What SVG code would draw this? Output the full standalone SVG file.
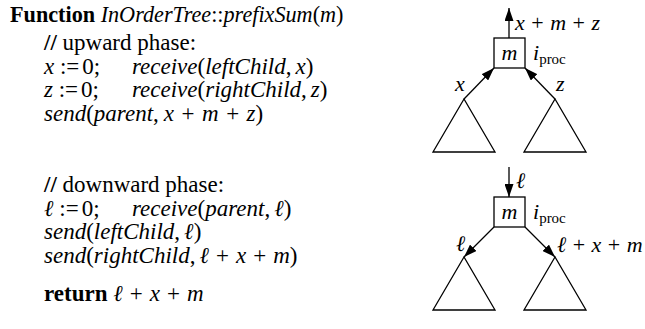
<svg xmlns="http://www.w3.org/2000/svg" width="645" height="329" viewBox="0 0 645 329">
<defs>
<marker id="ah" viewBox="0 0 13 9" refX="13" refY="4.5" markerWidth="13" markerHeight="9" markerUnits="userSpaceOnUse" orient="auto">
<path d="M0,0 L13,4.5 L0,9 Z" fill="#000"/>
</marker>
</defs>
<g id="code" font-family="Liberation Serif" font-size="23" fill="#000">
<text font-family="Liberation Serif" font-size="22.2" x="10" y="22"><tspan font-weight="bold">Function</tspan> <tspan font-style="italic">InOrderTree</tspan>::<tspan font-style="italic">prefixSum</tspan>(<tspan font-style="italic">m</tspan>)</text>
<text font-family="Liberation Serif" x="44" y="50"><tspan font-weight="bold">//</tspan> upward phase:</text>
<text font-family="Liberation Serif" x="44" y="74"><tspan font-style="italic">x</tspan> :=<tspan dx="3">0;</tspan></text>
<text font-family="Liberation Serif" x="132" y="74"><tspan font-style="italic">receive</tspan>(<tspan font-style="italic">leftChild</tspan>,<tspan font-style="italic" dx="4">x</tspan>)</text>
<text font-family="Liberation Serif" x="44" y="97"><tspan font-style="italic">z</tspan> :=<tspan dx="3">0;</tspan></text>
<text font-family="Liberation Serif" x="132" y="97"><tspan font-style="italic">receive</tspan>(<tspan font-style="italic">rightChild</tspan>,<tspan font-style="italic" dx="4">z</tspan>)</text>
<text font-family="Liberation Serif" x="44" y="121"><tspan font-style="italic">send</tspan>(<tspan font-style="italic">parent</tspan>,<tspan font-style="italic" dx="5">x</tspan><tspan dx="7.5">+</tspan><tspan font-style="italic" dx="7.5">m</tspan><tspan dx="7.5">+</tspan><tspan font-style="italic" dx="7.5">z</tspan>)</text>
<text font-family="Liberation Serif" x="44" y="192"><tspan font-weight="bold">//</tspan> downward phase:</text>
<text font-family="Liberation Serif" x="44" y="216"><tspan font-style="italic">ℓ</tspan> :=<tspan dx="3">0;</tspan></text>
<text font-family="Liberation Serif" x="132" y="216"><tspan font-style="italic">receive</tspan>(<tspan font-style="italic">parent</tspan>,<tspan font-style="italic" dx="4">ℓ</tspan>)</text>
<text font-family="Liberation Serif" x="44" y="239"><tspan font-style="italic">send</tspan>(<tspan font-style="italic">leftChild</tspan>,<tspan font-style="italic" dx="4">ℓ</tspan>)</text>
<text font-family="Liberation Serif" x="44" y="263"><tspan font-style="italic">send</tspan>(<tspan font-style="italic">rightChild</tspan>,<tspan font-style="italic" dx="4">ℓ</tspan><tspan dx="7">+</tspan><tspan font-style="italic" dx="7">x</tspan><tspan dx="7">+</tspan><tspan font-style="italic" dx="7">m</tspan>)</text>
<text font-family="Liberation Serif" x="44" y="301"><tspan font-weight="bold">return</tspan> <tspan font-style="italic">ℓ</tspan><tspan dx="7">+</tspan><tspan font-style="italic" dx="7">x</tspan><tspan dx="7">+</tspan><tspan font-style="italic" dx="7">m</tspan></text>
</g>
<g id="connectors" stroke="#000" stroke-width="1.3" fill="none">
<line x1="509" y1="38" x2="509" y2="8" marker-end="url(#ah)"/>
<line x1="464" y1="99" x2="494" y2="68" marker-end="url(#ah)"/>
<line x1="555" y1="99" x2="525" y2="68" marker-end="url(#ah)"/>
<line x1="509" y1="167" x2="509" y2="197" marker-end="url(#ah)"/>
<line x1="494" y1="227" x2="464" y2="257" marker-end="url(#ah)"/>
<line x1="525" y1="227" x2="555" y2="257" marker-end="url(#ah)"/>
</g>
<g id="up-node" font-family="Liberation Serif" font-size="22">
<rect x="494" y="38" width="31" height="30" fill="#fff" stroke="#000" stroke-width="1.3"/>
<text font-family="Liberation Serif" font-style="italic" x="509.5" y="60" text-anchor="middle">m</text>
<text font-family="Liberation Serif" x="533" y="60"><tspan font-style="italic">i</tspan><tspan font-size="15" dy="4">proc</tspan></text>
<text font-family="Liberation Serif" x="515" y="30"><tspan font-style="italic">x</tspan><tspan dx="6.5">+</tspan><tspan font-style="italic" dx="6.5">m</tspan><tspan dx="6.5">+</tspan><tspan font-style="italic" dx="6.5">z</tspan></text>
</g>
<g id="up-left-subtree" font-family="Liberation Serif" font-size="22">
<polygon points="464,99 433,152 495,152" fill="none" stroke="#000" stroke-width="1.3"/>
<text font-family="Liberation Serif" font-style="italic" x="455" y="91">x</text>
</g>
<g id="up-right-subtree" font-family="Liberation Serif" font-size="22">
<polygon points="555,99 524,152 586,152" fill="none" stroke="#000" stroke-width="1.3"/>
<text font-family="Liberation Serif" font-style="italic" x="556" y="91">z</text>
</g>
<g id="down-node" font-family="Liberation Serif" font-size="22">
<rect x="494" y="197" width="31" height="30" fill="#fff" stroke="#000" stroke-width="1.3"/>
<text font-family="Liberation Serif" font-style="italic" x="509.5" y="219" text-anchor="middle">m</text>
<text font-family="Liberation Serif" x="533" y="219"><tspan font-style="italic">i</tspan><tspan font-size="15" dy="4">proc</tspan></text>
<text font-family="Liberation Serif" font-style="italic" x="516" y="188">ℓ</text>
</g>
<g id="down-left-subtree" font-family="Liberation Serif" font-size="22">
<polygon points="464,257 433,310 495,310" fill="none" stroke="#000" stroke-width="1.3"/>
<text font-family="Liberation Serif" font-style="italic" x="456" y="251">ℓ</text>
</g>
<g id="down-right-subtree" font-family="Liberation Serif" font-size="22">
<polygon points="555,257 524,310 586,310" fill="none" stroke="#000" stroke-width="1.3"/>
<text font-family="Liberation Serif" x="557" y="252"><tspan font-style="italic">ℓ</tspan><tspan dx="6.5">+</tspan><tspan font-style="italic" dx="6.5">x</tspan><tspan dx="6.5">+</tspan><tspan font-style="italic" dx="6.5">m</tspan></text>
</g>
</svg>
